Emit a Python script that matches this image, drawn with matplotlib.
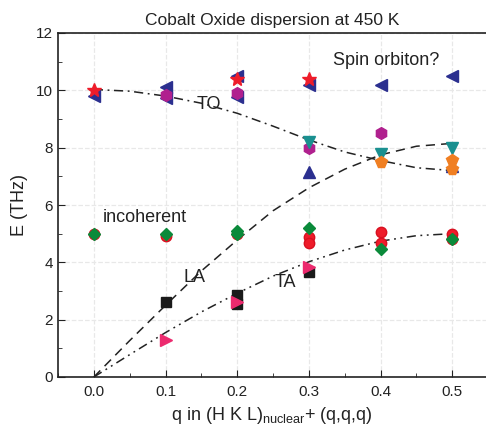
import matplotlib
matplotlib.use("Agg")
import matplotlib.pyplot as plt

plt.rcParams['font.family'] = ['Liberation Sans', 'DejaVu Sans']
plt.rcParams['mathtext.fontset'] = 'custom'
plt.rcParams['mathtext.rm'] = 'Liberation Sans'
plt.rcParams['mathtext.it'] = 'Liberation Sans:italic'

# ---- data ----
star_q = [0.0, 0.2, 0.3]
star_E = [10.0, 10.4, 10.4]

ltri_q = [0.0, 0.1, 0.1, 0.2, 0.2, 0.3, 0.4, 0.5]
ltri_E = [9.8, 10.1, 9.75, 10.5, 9.78, 10.2, 10.2, 10.5]

utri_q = [0.3, 0.5]
utri_E = [7.15, 7.35]

hex_q = [0.1, 0.2, 0.3, 0.4]
hex_E = [9.85, 9.9, 8.0, 8.5]

dtri_q = [0.3, 0.4, 0.5]
dtri_E = [8.2, 7.78, 7.98]

orange_q = [0.4, 0.5, 0.5]
orange_E = [7.5, 7.57, 7.25]

circ_q = [0.0, 0.1, 0.2, 0.3, 0.3, 0.4, 0.4, 0.5, 0.5]
circ_E = [5.0, 4.92, 5.0, 4.9, 4.68, 5.05, 4.68, 5.0, 4.8]

diam_q = [0.0, 0.1, 0.2, 0.2, 0.3, 0.4, 0.5]
diam_E = [5.0, 5.0, 5.1, 4.98, 5.2, 4.47, 4.82]

sq_q = [0.1, 0.2, 0.2, 0.3]
sq_E = [2.6, 2.85, 2.55, 3.65]

rtri_q = [0.1, 0.2, 0.3]
rtri_E = [1.3, 2.6, 3.84]

curve_q = [0.0, 0.05, 0.1, 0.15, 0.2, 0.25, 0.3, 0.35, 0.4, 0.45, 0.5]
TO_E = [10.03, 9.97, 9.8, 9.55, 9.2, 8.75, 8.27, 7.85, 7.55, 7.3, 7.2]
LA_E = [0.0, 1.27, 2.5, 3.7, 4.78, 5.8, 6.6, 7.25, 7.75, 8.05, 8.15]
TA_E = [0.0, 0.78, 1.55, 2.27, 2.92, 3.52, 4.02, 4.43, 4.74, 4.93, 5.0]

xticks = [0.0, 0.1, 0.2, 0.3, 0.4, 0.5]
yticks = [0, 2, 4, 6, 8, 10, 12]

# ---- figure ----
fig = plt.figure(figsize=(4.86, 4.33), dpi=100)
ax = fig.add_axes([58/486, 1-377/433, 1-58/486, (377-33)/433])

ax.plot(curve_q, TO_E, color='#222222', lw=1.1, dashes=[6, 3, 1.2, 3])
ax.plot(curve_q, LA_E, color='#222222', lw=1.1, dashes=[6, 4])
ax.plot(curve_q, TA_E, color='#222222', lw=1.1, dashes=[6, 3, 1.2, 3, 1.2, 3])

ax.plot(utri_q, utri_E, '^', color='#2b2f8f', ms=8.5, ls='none')
ax.plot(ltri_q, ltri_E, '<', color='#2b2f8f', ms=9, ls='none')
ax.plot(hex_q, hex_E, 'h', color='#b0208e', ms=8.5, ls='none')
ax.plot(star_q, star_E, '*', color='#ee1c2a', ms=10, ls='none')
ax.plot(dtri_q, dtri_E, 'v', color='#1a9090', ms=9, ls='none')
ax.plot(orange_q, orange_E, 'p', color='#f07f22', ms=8.5, ls='none')
ax.plot(circ_q, circ_E, 'o', color='#ee1c2a', mec='#d81020', ms=7.5, ls='none')
ax.plot(diam_q, diam_E, 'D', color='#0a8a3a', ms=6.5, ls='none')
ax.plot(sq_q, sq_E, 's', color='#1a1a1a', ms=6.5, ls='none')
ax.plot(rtri_q, rtri_E, '>', color='#ec2a6e', ms=9, ls='none')

ax.text(0.161, 9.52, 'TO', fontsize=13, ha='center', va='center', color='#222222')
ax.text(0.408, 11.04, 'Spin orbiton?', fontsize=13, ha='center', va='center', color='#222222')
ax.text(0.012, 5.55, 'incoherent', fontsize=13, ha='left', va='center', color='#222222')
ax.text(0.140, 3.47, 'LA', fontsize=13, ha='center', va='center', color='#222222')
ax.text(0.267, 3.3, 'TA', fontsize=13, ha='center', va='center', color='#222222')

ax.set_xlim(-0.05, 0.547)
ax.set_ylim(0, 12)
ax.set_xticks(xticks)
ax.set_xticklabels([f'{v:.1f}' for v in xticks])
ax.set_yticks(yticks)
ax.set_xticks([-0.05, 0.05, 0.15, 0.25, 0.35, 0.45], minor=True)
ax.set_yticks([1, 3, 5, 7, 9, 11], minor=True)
ax.tick_params(which='both', direction='in', labelsize=11, colors='#222222')
ax.tick_params(which='major', length=5)
ax.tick_params(which='minor', length=3)
ax.tick_params(axis='x', pad=6)
ax.grid(True, which='major', color='#e8e8e8', ls='--', lw=0.9)
ax.set_axisbelow(True)
ax.spines['right'].set_visible(False)
for s in ['left', 'bottom', 'top']:
    ax.spines[s].set_color('#222222')
    ax.spines[s].set_linewidth(1.2)

ax.set_xlabel(r'q in (H K L)$_{\mathrm{nuclear}}$+ (q,q,q)', fontsize=13, color='#222222', labelpad=4)
ax.set_ylabel('E (THz)', fontsize=13, color='#222222', labelpad=6)
ax.set_title('Cobalt Oxide dispersion at 450 K', fontsize=12.5, color='#222222', pad=6)

fig.savefig('out.png', dpi=100)
